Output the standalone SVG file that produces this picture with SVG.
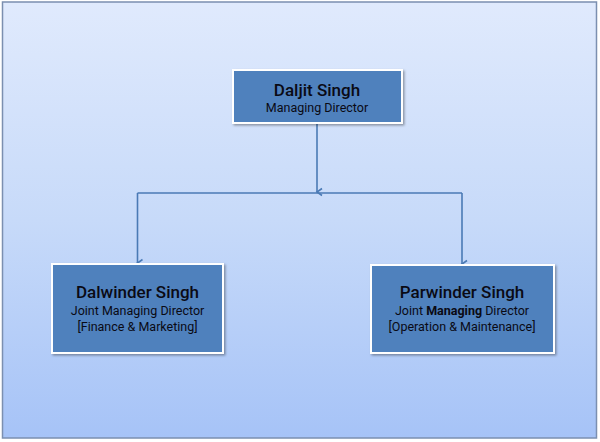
<svg xmlns="http://www.w3.org/2000/svg" width="600" height="442" viewBox="0 0 600 442">
<defs>
<linearGradient id="bg" x1="0" y1="0" x2="0" y2="1">
<stop offset="0" stop-color="#e0eafd"/>
<stop offset="0.5" stop-color="#c7daf9"/>
<stop offset="1" stop-color="#a6c3f7"/>
</linearGradient>
<filter id="sh" x="-10%" y="-10%" width="130%" height="130%">
<feDropShadow dx="1.5" dy="1.5" stdDeviation="1.2" flood-color="#000" flood-opacity="0.35"/>
</filter>
<marker id="ah" markerWidth="10" markerHeight="10" refX="5" refY="8" orient="auto" markerUnits="userSpaceOnUse" viewBox="0 0 10 10">
<path d="M1.5,3 L5,8 L8.5,3" fill="none" stroke="#4a7ab5" stroke-width="1.6"/>
</marker>
</defs>
<style>
.box{fill:#4f81bd;stroke:#fff;stroke-width:2;filter:url(#sh)}
.t{font-family:"Roboto","Liberation Sans",sans-serif;fill:#0a0a14;text-anchor:middle}
.n{font-size:17px;font-weight:500}
.s{font-size:12.5px}
.c{fill:none;stroke:#4a7ab5;stroke-width:1.6}
</style>
<rect x="2.5" y="2" width="594" height="436" fill="url(#bg)" stroke="#7b8fb0" stroke-width="1.5"/>
<g id="connectors">
<path class="c" d="M317,124 V192" marker-end="url(#ah)"/>
<path class="c" d="M137.5,193 H462"/>
<path class="c" d="M137.5,193 V263" marker-end="url(#ah)"/>
<path class="c" d="M462,193 V264" marker-end="url(#ah)"/>
</g>
<g id="n1">
<rect class="box" x="233" y="70" width="169" height="53"/>
<text class="t n" x="317" y="96">Daljit Singh</text>
<text class="t s" x="317" y="112">Managing Director</text>
</g>
<g id="n2">
<rect class="box" x="52" y="264" width="171" height="89"/>
<text class="t n" x="137.5" y="298">Dalwinder Singh</text>
<text class="t s" x="137.5" y="315">Joint Managing Director</text>
<text class="t s" x="137.5" y="331">[Finance &amp; Marketing]</text>
</g>
<g id="n3">
<rect class="box" x="371" y="265" width="183" height="88"/>
<text class="t n" x="462" y="298">Parwinder Singh</text>
<text class="t s" x="462" y="315">Joint <tspan font-weight="bold">Managing</tspan> Director</text>
<text class="t s" x="462" y="331">[Operation &amp; Maintenance]</text>
</g>
</svg>
